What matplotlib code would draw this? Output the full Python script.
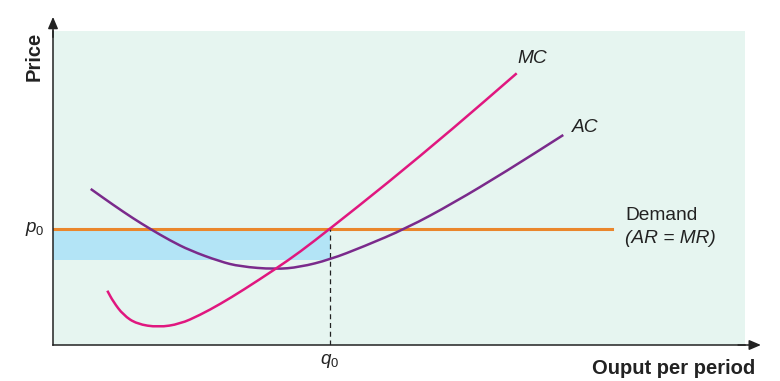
import numpy as np
import matplotlib
matplotlib.use("Agg")
import matplotlib.pyplot as plt
from matplotlib.path import Path
from matplotlib.patches import PathPatch

plt.rcParams['font.family'] = ['Liberation Sans', 'DejaVu Sans']
plt.rcParams['mathtext.fontset'] = 'custom'
plt.rcParams['mathtext.rm'] = 'Liberation Sans'
plt.rcParams['mathtext.it'] = 'Liberation Sans:italic'

# marginal cost curve (output, price)
mc_q = [0.785, 0.871, 1.016, 1.210, 1.522, 1.835, 2.124, 2.413, 2.750, 3.208, 3.569, 4.000, 4.822, 5.785, 6.701]
mc_p = [1.729, 1.379, 0.955, 0.669, 0.564, 0.669, 0.955, 1.300, 1.752, 2.411, 2.962, 3.700, 5.137, 6.901, 8.653]

# average cost curve
ac_q = [0.545, 0.871, 1.160, 1.402, 1.691, 1.980, 2.413, 2.702, 3.208, 3.569, 4.000, 4.484, 5.111, 5.785, 6.556, 7.374]
ac_p = [4.970, 4.460, 4.030, 3.700, 3.330, 3.010, 2.660, 2.500, 2.410, 2.480, 2.720, 3.131, 3.720, 4.520, 5.540, 6.688]

p0 = 3.70        # price
q0 = 4.00        # output where MC = p0
ac_at_q0 = 2.72  # AC at q0
demand_end = 8.08


def smooth_path(xs, ys):
    # quadratic b-spline through the read points
    pts = np.column_stack([xs, ys])
    verts = [pts[0], (pts[0] + pts[1]) / 2]
    codes = [Path.MOVETO, Path.LINETO]
    for i in range(1, len(pts) - 1):
        verts += [pts[i], (pts[i] + pts[i + 1]) / 2]
        codes += [Path.CURVE3, Path.CURVE3]
    verts.append(pts[-1])
    codes.append(Path.LINETO)
    return Path(verts, codes)


fig = plt.figure(figsize=(7.8, 3.81), dpi=100)
ax = fig.add_axes([53/780, 36/381, 692/780, 314/381])
ax.set_facecolor('#e6f5f0')
ax.set_xlim(0, 10)
ax.set_ylim(0, 10)
ax.set_xticks([])
ax.set_yticks([])
for s in ['top', 'right']:
    ax.spines[s].set_visible(False)
for s in ['left', 'bottom']:
    ax.spines[s].set_linewidth(1.1)
    ax.spines[s].set_color('#222222')

# supernormal profit area
ax.fill_between([0, q0], ac_at_q0, p0, color='#b3e4f6', lw=0, zorder=1)

ax.plot([0, demand_end], [p0, p0], color='#ea862c', lw=2.2, zorder=2)
ax.plot([q0, q0], [0, p0], color='#222222', lw=0.9, ls=(0, (4, 3)), zorder=2)
ax.add_patch(PathPatch(smooth_path(ac_q, ac_p), fill=False, ec='#7a2a8b', lw=1.8,
                       capstyle='butt', zorder=3))
ax.add_patch(PathPatch(smooth_path(mc_q, mc_p), fill=False, ec='#e0177f', lw=1.8,
                       capstyle='butt', zorder=4))

# axis arrows
ax.annotate('', xy=(0, 1.045), xytext=(0, 0.98), xycoords='axes fraction',
            arrowprops=dict(arrowstyle='-|>,head_length=0.7,head_width=0.3',
                            color='#222222', lw=1.1, shrinkA=0, shrinkB=0),
            annotation_clip=False)
ax.annotate('', xy=(1.023, 0), xytext=(0.99, 0), xycoords='axes fraction',
            arrowprops=dict(arrowstyle='-|>,head_length=0.7,head_width=0.3',
                            color='#222222', lw=1.1, shrinkA=0, shrinkB=0),
            annotation_clip=False)

fs = 13.8
ax.text(6.71, 9.11, 'MC', style='italic', fontsize=fs, color='#222222', va='center')
ax.text(7.50, 6.94, 'AC', style='italic', fontsize=fs, color='#222222', va='center')
ax.text(8.27, 4.14, 'Demand', fontsize=fs, color='#222222', va='center')
ax.text(8.27, 3.38, '(AR = MR)', style='italic', fontsize=fs, color='#222222', va='center')
ax.text(-0.12, p0, '$p_0$', fontsize=13.5, color='#222222', ha='right', va='center')
ax.text(q0, -0.50, '$q_0$', fontsize=13.5, color='#222222', ha='center', va='center')

fig.text(34/780, 1 - 32/381, 'Price', rotation=90, fontsize=14.5, fontweight='bold',
         color='#222222', ha='center', va='top')
fig.text(755/780, 1 - 368/381, 'Ouput per period', fontsize=14.5, fontweight='bold',
         color='#222222', ha='right', va='center')

fig.savefig('out.png', dpi=100, facecolor='white')
